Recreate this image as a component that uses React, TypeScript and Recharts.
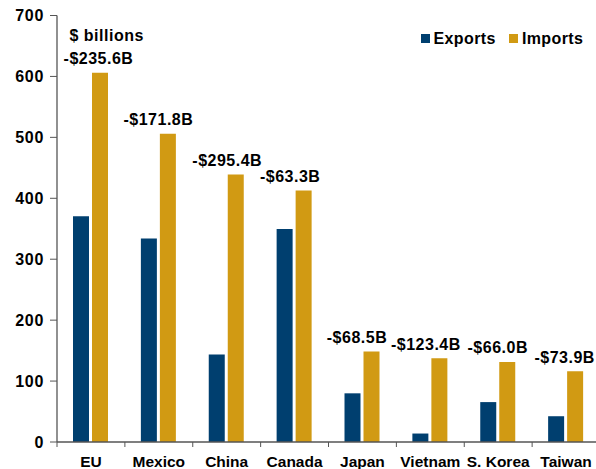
import React from 'react';
import { BarChart, Bar, XAxis, YAxis, Legend, LabelList } from 'recharts';

// Trade with top partners, $ billions
const countries = ['EU', 'Mexico', 'China', 'Canada', 'Japan', 'Vietnam', 'S. Korea', 'Taiwan'];
const exportsBn = [370.4, 334.0, 143.5, 349.4, 79.9, 13.9, 65.5, 42.3];
const importsBn = [606.0, 505.8, 438.9, 412.7, 148.4, 137.3, 131.5, 116.2];
const yTicks = [0, 100, 200, 300, 400, 500, 600, 700];

// small horizontal nudges for the balance labels
const labelDx = [8, 0, 1, -4, -5, -4, 0, -1];

const EXPORT_COLOR = '#003F6F';
const IMPORT_COLOR = '#D19A13';
const AXIS_COLOR = '#555555';
const FONT = '"Liberation Sans", Arial, sans-serif';

const CHART_W = 600;
const CHART_H = 469;
const Y_AXIS_W = 57;
const BAND = (CHART_W - Y_AXIS_W) / countries.length;

const data = countries.map((country, i) => ({
  country,
  exports: exportsBn[i],
  imports: importsBn[i],
  balance: exportsBn[i] - importsBn[i],
}));

const series = [
  { key: 'exports', name: 'Exports', color: EXPORT_COLOR },
  { key: 'imports', name: 'Imports', color: IMPORT_COLOR },
];

const formatBalance = (v: number) => `${v < 0 ? '-' : ''}$${Math.abs(v).toFixed(1)}B`;

const CategoryTick = (props: any) => {
  const { x, y, payload } = props;
  const left = x - BAND / 2;
  return (
    <g>
      <line x1={left} x2={left} y1={y} y2={y + 5} stroke={AXIS_COLOR} strokeWidth={1} />
      <text
        x={x}
        y={y + 25}
        textAnchor="middle"
        fontFamily={FONT}
        fontWeight={700}
        fontSize={15.5}
        fill="#000"
      >
        {payload.value}
      </text>
    </g>
  );
};

const BalanceLabel = (props: any) => {
  const { x, y, width, value, index } = props;
  const cx = x + width / 2 - (width + 3) / 2 + (labelDx[index] || 0);
  return (
    <text
      x={cx}
      y={y - 8.5}
      textAnchor="middle"
      fontFamily={FONT}
      fontWeight={700}
      fontSize={16}
      letterSpacing={0.5}
      fill="#000"
    >
      {formatBalance(value)}
    </text>
  );
};

const renderLegend = () => (
  <div
    style={{
      display: 'flex',
      alignItems: 'center',
      fontFamily: FONT,
      fontWeight: 700,
      fontSize: 16,
      letterSpacing: 0.4,
      lineHeight: '18px',
      color: '#000',
      whiteSpace: 'nowrap',
    }}
  >
    {series.map((s) => (
      <span key={s.key} style={{ display: 'flex', alignItems: 'center', marginRight: 13 }}>
        <span style={{ width: 9, height: 9, background: s.color, marginRight: 4, display: 'inline-block' }} />
        {s.name}
      </span>
    ))}
  </div>
);

export default function App() {
  return (
    <div style={{ position: 'absolute', left: 0, top: 0, width: 596, height: 469, overflow: 'hidden', background: '#fff' }}>
      <BarChart
        width={CHART_W}
        height={CHART_H}
        data={data}
        margin={{ top: 15.5, right: 0, bottom: 0, left: 0 }}
        barSize={16}
        barGap={3}
      >
        <XAxis
          dataKey="country"
          height={27}
          tickSize={0}
          tickMargin={0}
          tickLine={false}
          axisLine={{ stroke: AXIS_COLOR, strokeWidth: 1.3 }}
          tick={<CategoryTick />}
          interval={0}
        />
        <YAxis
          width={Y_AXIS_W}
          domain={[0, 700]}
          ticks={yTicks}
          tickSize={7}
          tickMargin={6}
          axisLine={{ stroke: AXIS_COLOR, strokeWidth: 1.3 }}
          tickLine={{ stroke: AXIS_COLOR }}
          tick={{ fontFamily: FONT, fontWeight: 700, fontSize: 16, letterSpacing: 0.7, fill: '#000' }}
        />
        <Legend
          layout="horizontal"
          verticalAlign="middle"
          align="center"
          content={renderLegend}
          wrapperStyle={{ top: 29.5, left: 420.5, width: 'auto', height: 'auto' }}
        />
        <Bar dataKey="exports" name="Exports" fill={EXPORT_COLOR} isAnimationActive={false} />
        <Bar dataKey="imports" name="Imports" fill={IMPORT_COLOR} isAnimationActive={false}>
          <LabelList dataKey="balance" content={<BalanceLabel />} />
        </Bar>
        <text x={69.5} y={40.5} fontFamily={FONT} fontWeight={700} fontSize={16} letterSpacing={0.5} fill="#000">
          $ billions
        </text>
      </BarChart>
    </div>
  );
}
